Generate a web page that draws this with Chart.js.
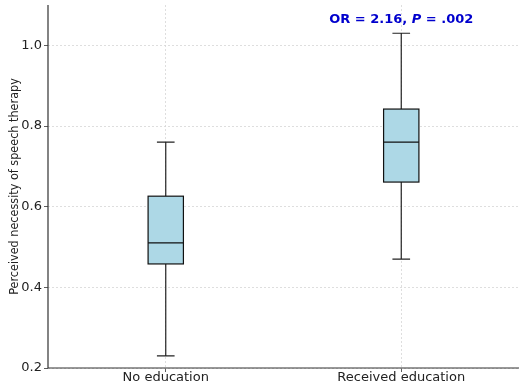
<!DOCTYPE html>
<html>
<head>
<meta charset="utf-8">
<script src="https://cdn.jsdelivr.net/npm/chart.js@4/dist/chart.umd.min.js"></script>
<style>
html,body{margin:0;padding:0;background:#fff;}
#wrap{width:523px;height:385px;}
</style>
</head>
<body>
<div id="wrap"><canvas id="c" width="523" height="385"></canvas></div>
<script>
const categories = ["No education", "Received education"];
const positions = [1, 2];
const whiskerLow = [0.23, 0.47];
const q1 = [0.458, 0.661];
const median = [0.51, 0.76];
const q3 = [0.626, 0.842];
const whiskerHigh = [0.76, 1.03];
const yTicks = [0.2, 0.4, 0.6, 0.8, 1.0];
const annotationText = ["OR = 2.16, ", "P", " = .002"];
const annotationPos = {x: 2, y: 1.064};
const boxWidth = 0.15;

const boxPlugin = {
  id: 'boxes',
  afterDatasetsDraw(chart) {
    const ctx = chart.ctx, xs = chart.scales.x, ys = chart.scales.y;
    ctx.save();
    for (let i = 0; i < positions.length; i++) {
      const xc = xs.getPixelForValue(positions[i]);
      const xl = xs.getPixelForValue(positions[i] - boxWidth / 2);
      const xr = xs.getPixelForValue(positions[i] + boxWidth / 2);
      const capl = xs.getPixelForValue(positions[i] - boxWidth / 4);
      const capr = xs.getPixelForValue(positions[i] + boxWidth / 4);
      const yq1 = ys.getPixelForValue(q1[i]);
      const yq3 = ys.getPixelForValue(q3[i]);
      const ym = ys.getPixelForValue(median[i]);
      const ylo = ys.getPixelForValue(whiskerLow[i]);
      const yhi = ys.getPixelForValue(whiskerHigh[i]);
      ctx.strokeStyle = '#222';
      ctx.lineWidth = 1.2;
      ctx.beginPath();
      ctx.moveTo(xc, yq1); ctx.lineTo(xc, ylo);
      ctx.moveTo(xc, yq3); ctx.lineTo(xc, yhi);
      ctx.moveTo(capl, ylo); ctx.lineTo(capr, ylo);
      ctx.moveTo(capl, yhi); ctx.lineTo(capr, yhi);
      ctx.stroke();
      ctx.fillStyle = '#ADD8E6';
      ctx.fillRect(xl, yq3, xr - xl, yq1 - yq3);
      ctx.strokeStyle = '#111';
      ctx.strokeRect(xl, yq3, xr - xl, yq1 - yq3);
      ctx.beginPath();
      ctx.moveTo(xl, ym); ctx.lineTo(xr, ym);
      ctx.stroke();
    }
    const ax = xs.getPixelForValue(annotationPos.x);
    const ay = ys.getPixelForValue(annotationPos.y);
    const fonts = ['bold 13px "DejaVu Sans"', 'bold italic 13px "DejaVu Sans"', 'bold 13px "DejaVu Sans"'];
    let total = 0;
    const widths = annotationText.map((t, k) => { ctx.font = fonts[k]; const w = ctx.measureText(t).width; total += w; return w; });
    let x = ax - total / 2;
    ctx.fillStyle = '#0000CD';
    ctx.textBaseline = 'middle';
    ctx.textAlign = 'left';
    annotationText.forEach((t, k) => { ctx.font = fonts[k]; ctx.fillText(t, x, ay); x += widths[k]; });
    ctx.restore();
  }
};

const spinePlugin = {
  id: 'spines',
  afterDraw(chart) {
    const ctx = chart.ctx, a = chart.chartArea;
    ctx.save();
    ctx.strokeStyle = '#333';
    ctx.lineWidth = 1.2;
    ctx.beginPath();
    ctx.moveTo(a.left, a.top); ctx.lineTo(a.left, a.bottom); ctx.lineTo(a.right, a.bottom);
    ctx.stroke();
    ctx.restore();
  }
};

new Chart(document.getElementById('c'), {
  type: 'scatter',
  data: { datasets: [{ data: positions.map((p, i) => ({x: p, y: median[i]})), pointRadius: 0, showLine: false }] },
  options: {
    responsive: false,
    animation: false,
    events: [],
    layout: { padding: { top: 5, right: 4, left: 0, bottom: 0 } },
    plugins: { legend: { display: false }, tooltip: { enabled: false } },
    scales: {
      x: {
        type: 'linear', min: 0.5, max: 2.5,
        afterBuildTicks(s) { s.ticks = positions.map(v => ({value: v})); },
        afterFit(s) { s.height = 17; s.paddingLeft = 0; s.paddingRight = 0; },
        ticks: { callback: (v) => categories[positions.indexOf(v)], color: '#222', font: { family: 'DejaVu Sans', size: 13 }, padding: -2, maxRotation: 0 },
        grid: { color: '#d6d6d6', lineWidth: 0.8, tickLength: 4, tickColor: '#333' },
        border: { display: false, dash: [2, 2] }
      },
      y: {
        type: 'linear', min: 0.2, max: 1.1,
        afterBuildTicks(s) { s.ticks = yTicks.map(v => ({value: v})); },
        afterFit(s) { s.width = 48; s.paddingTop = 0; s.paddingBottom = 0; },
        ticks: { callback: (v) => v.toFixed(1), color: '#222', font: { family: 'DejaVu Sans', size: 13 }, padding: 2 },
        grid: { color: '#d6d6d6', lineWidth: 0.8, tickLength: 4, tickColor: '#333' },
        border: { display: false, dash: [2, 2] },
        title: { display: true, text: 'Perceived necessity of speech therapy', color: '#222', font: { family: 'DejaVu Sans Condensed', size: 12.5 }, padding: { top: 7, bottom: 0 } }
      }
    }
  },
  plugins: [boxPlugin, spinePlugin]
});
</script>
</body>
</html>
